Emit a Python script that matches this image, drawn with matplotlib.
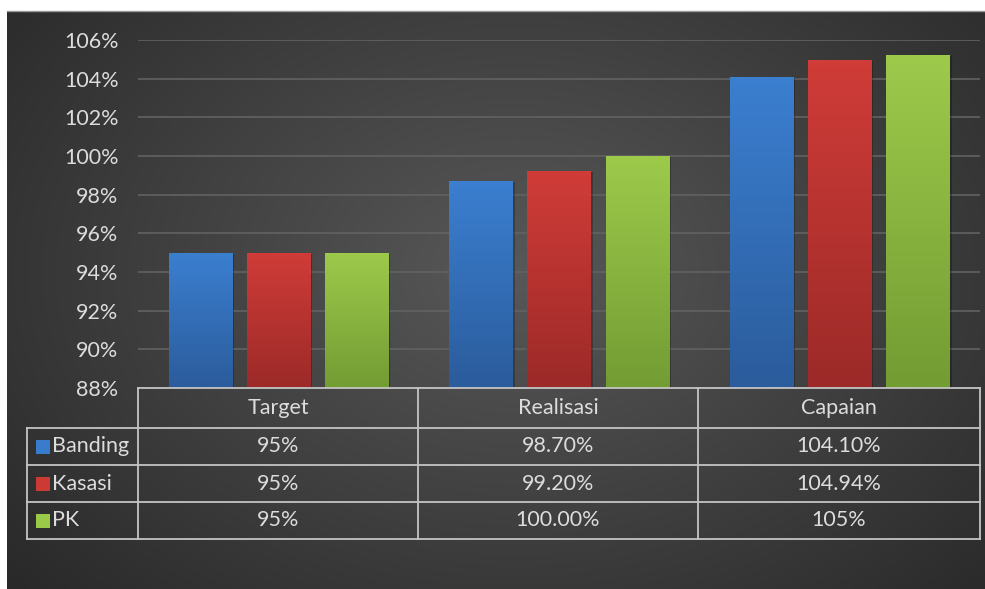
import numpy as np
import matplotlib
matplotlib.use("Agg")
import matplotlib.pyplot as plt
from matplotlib.patches import Rectangle

categories = ["Target", "Realisasi", "Capaian"]
series_names = ["Banding", "Kasasi", "PK"]
banding = [95.0, 98.7, 104.1]
kasasi = [95.0, 99.2, 104.94]
pk = [95.0, 100.0, 105.2]
table_banding = ["95%", "98.70%", "104.10%"]
table_kasasi = ["95%", "99.20%", "104.94%"]
table_pk = ["95%", "100.00%", "105%"]
yticks = [88, 90, 92, 94, 96, 98, 100, 102, 104, 106]

series = [banding, kasasi, pk]
table_rows = [table_banding, table_kasasi, table_pk]
top_cols = ["#3b7fd0", "#d03c38", "#9dca4b"]
bot_cols = ["#2b5c9c", "#9c2a28", "#739c33"]
legend_cols = ["#3a7ccc", "#cc3a36", "#9ac848"]

W, H = 985, 589
fig = plt.figure(figsize=(W / 100, H / 100), dpi=100)
fig.patch.set_facecolor("white")

FONT = ["Lato", "DejaVu Sans"]
TXT = "#dcdcdc"
FS = 15.5

# background with radial gradient
bx0, by0 = 7, 11
bg = fig.add_axes([bx0 / W, 0, (W - bx0) / W, (H - by0) / H])
bg.set_axis_off()
yy, xx = np.mgrid[0:1:300j, 0:1:500j]
r = np.sqrt(((xx - 0.52) / 0.75) ** 2 + ((yy - 0.45) / 0.9) ** 2)
v = np.clip(0.345 - 0.20 * r, 0.13, 0.345)
img = np.dstack([v, v, v])
bg.imshow(img, extent=[0, 1, 0, 1], aspect="auto", origin="upper")
bg.set_xlim(0, 1); bg.set_ylim(0, 1)
fig.add_artist(plt.Line2D([bx0 / W, 1], [1 - by0 / H, 1 - by0 / H], color="#9a9a9a", lw=1))

# main axes
x0p, x1p = 138, 980
ytop, ybot = 40, 388
ax = fig.add_axes([x0p / W, 1 - ybot / H, (x1p - x0p) / W, (ybot - ytop) / H])
ax.set_facecolor("none")
ax.set_xlim(-0.5, 2.5)
ax.set_ylim(88, 106)
for s in ax.spines.values():
    s.set_visible(False)
ax.set_yticks(yticks)
ax.set_yticklabels([f"{t}%" for t in yticks], fontsize=FS, color=TXT, family=FONT)
ax.tick_params(axis="y", length=0, pad=14)
ax.set_xticks([])
ax.grid(axis="y", color="#626262", lw=1.2)
ax.set_axisbelow(True)

bw = 63 / 280
offs = [-78 / 280, 0, 78 / 280]
grad = np.linspace(0, 1, 100).reshape(-1, 1)
for si, vals in enumerate(series):
    c0 = np.array(matplotlib.colors.to_rgb(top_cols[si]))
    c1 = np.array(matplotlib.colors.to_rgb(bot_cols[si]))
    cimg = (c0[None, None, :] * (1 - grad[:, :, None]) + c1[None, None, :] * grad[:, :, None])
    bars = ax.bar(np.arange(3) + offs[si], vals, width=bw, bottom=0, color="none", zorder=3)
    for b, val in zip(bars, vals):
        x = b.get_x()
        ax.add_patch(Rectangle((x + 0.008, 88), bw, val - 88 - 0.05, color="black", alpha=0.25, zorder=2.5, lw=0))
        im = ax.imshow(cimg, extent=[x, x + bw, 88, val], aspect="auto", origin="upper", zorder=3)
        im.set_clip_path(Rectangle((x, 88), bw, val - 88, transform=ax.transData))
ax.set_xlim(-0.5, 2.5)
ax.set_ylim(88, 106)

# table overlay in pixel coordinates
ov = fig.add_axes([0, 0, 1, 1])
ov.set_axis_off()
ov.set_xlim(0, W); ov.set_ylim(H, 0)
ov.patch.set_alpha(0)
LC = "#c4c4c4"
lw = 1.3
cols_x = [138, 418, 698, 980]
rows_y = [388, 428, 465, 502, 539]
lx = 27
ov.plot([138, 980], [388, 388], color=LC, lw=lw)
for yv in rows_y[1:]:
    ov.plot([lx, 980], [yv, yv], color=LC, lw=lw)
for xv in cols_x:
    ov.plot([xv, xv], [388, 539], color=LC, lw=lw)
ov.plot([lx, lx], [428, 539], color=LC, lw=lw)

for ci, cat in enumerate(categories):
    cx = (cols_x[ci] + cols_x[ci + 1]) / 2
    ov.text(cx, (rows_y[0] + rows_y[1]) / 2, cat, ha="center", va="center",
            fontsize=FS, color=TXT, family=FONT)
for ri, name in enumerate(series_names):
    cy = (rows_y[ri + 1] + rows_y[ri + 2]) / 2
    ov.add_patch(Rectangle((36, cy - 7), 14, 14, color=legend_cols[ri], lw=0))
    ov.text(52, cy, name, ha="left", va="center", fontsize=FS, color=TXT, family=FONT)
    for ci in range(3):
        cx = (cols_x[ci] + cols_x[ci + 1]) / 2
        ov.text(cx, cy, table_rows[ri][ci], ha="center", va="center",
                fontsize=FS, color=TXT, family=FONT)

fig.savefig("out.png", dpi=100, facecolor=fig.get_facecolor())
